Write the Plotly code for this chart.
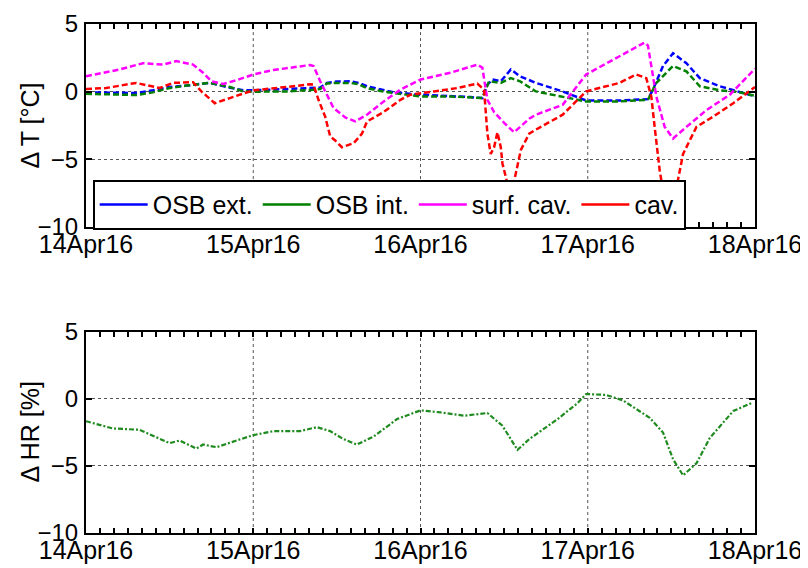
import pandas as pd
import plotly.graph_objects as go
from plotly.subplots import make_subplots

start = pd.Timestamp("2016-04-14")

# time in days after 14Apr16 00:00, values in degC / %
t_ext = [0.00, 0.15, 0.30, 0.40, 0.50, 0.60, 0.66, 0.74, 0.84, 0.94, 1.00, 1.20, 1.36, 1.40,
         1.44, 1.50, 1.58, 1.63, 1.68, 1.76, 1.84, 2.00, 2.18, 2.30, 2.37, 2.40, 2.43, 2.48,
         2.54, 2.595, 2.69, 2.85, 2.99, 3.19, 3.36, 3.39, 3.45, 3.51, 3.59, 3.67, 3.79, 3.89, 4.00]
osb_ext = [-0.05, -0.05, -0.1, 0.1, 0.35, 0.45, 0.52, 0.65, 0.35, 0.1, 0.1, 0.2, 0.27, 0.3,
           0.65, 0.75, 0.77, 0.65, 0.4, 0.15, -0.05, -0.22, -0.3, -0.4, -0.47, 0.52, 0.9, 0.77,
           1.64, 1.14, 0.65, 0.02, -0.65, -0.65, -0.55, 0.15, 1.9, 2.84, 2.1, 1.0, 0.4, 0.02, -0.35]

t_int = [0.00, 0.15, 0.30, 0.40, 0.50, 0.60, 0.74, 0.86, 0.94, 1.00, 1.20, 1.36, 1.40, 1.44,
         1.50, 1.58, 1.63, 1.68, 1.76, 1.84, 2.00, 2.18, 2.30, 2.37, 2.41, 2.48, 2.54, 2.595,
         2.69, 2.85, 2.99, 3.19, 3.36, 3.41, 3.51, 3.59, 3.67, 3.79, 3.89, 4.00]
osb_int = [-0.15, -0.2, -0.25, -0.05, 0.27, 0.45, 0.65, 0.35, 0.02, 0.0, 0.02, 0.15, 0.2, 0.6,
           0.65, 0.65, 0.55, 0.27, 0.05, -0.1, -0.35, -0.35, -0.4, -0.47, 0.77, 0.65, 1.0, 0.77,
           0.02, -0.35, -0.72, -0.72, -0.6, 0.65, 1.9, 1.5, 0.4, 0.1, 0.0, -0.3]

t_surf = [0.00, 0.10, 0.20, 0.34, 0.46, 0.54, 0.64, 0.70, 0.75, 0.82, 0.90, 1.00, 1.12, 1.34,
          1.36, 1.40, 1.48, 1.55, 1.61, 1.68, 1.78, 1.88, 2.00, 2.18, 2.34, 2.37, 2.40, 2.44,
          2.50, 2.56, 2.65, 2.69, 2.85, 2.99, 3.19, 3.34, 3.36, 3.41, 3.46, 3.51, 3.59, 3.71,
          3.85, 4.00]
surf_cav = [1.14, 1.4, 1.64, 2.1, 2.0, 2.26, 2.0, 1.4, 0.77, 0.57, 0.85, 1.27, 1.6, 1.97,
            1.9, 0.77, -1.2, -1.9, -2.2, -1.7, -0.72, 0.15, 0.9, 1.4, 2.0, 1.77, -0.6, -1.5,
            -2.3, -3.0, -2.0, -1.7, -0.97, 1.27, 2.64, 3.63, 3.4, -0.35, -2.6, -3.46, -2.6, -1.36,
            -0.22, 1.7]

t_cav = [0.00, 0.12, 0.30, 0.44, 0.52, 0.64, 0.69, 0.77, 0.86, 1.00, 1.20, 1.34, 1.36, 1.39,
         1.43, 1.46, 1.49, 1.53, 1.60, 1.65, 1.68, 1.78, 1.88, 1.94, 2.08, 2.22, 2.34, 2.38,
         2.40, 2.42, 2.44, 2.46, 2.48, 2.49, 2.52, 2.54, 2.56, 2.60, 2.65, 2.69, 2.85, 2.99,
         3.19, 3.29, 3.35, 3.38, 3.40, 3.43, 3.45, 3.49, 3.53, 3.57, 3.65, 3.75, 3.87, 4.00]
cav = [0.2, 0.27, 0.65, 0.27, 0.65, 0.7, 0.02, -0.85, -0.47, 0.1, 0.35, 0.55, 0.52, -0.6,
       -1.84, -3.3, -3.6, -4.1, -3.8, -3.1, -2.2, -1.5, -0.6, -0.22, 0.02, 0.27, 0.6, 0.15,
       -3.1, -4.6, -4.1, -3.0, -4.1, -5.3, -6.8, -9.0, -6.6, -4.3, -3.1, -2.8, -1.7, 0.02,
       0.65, 1.27, 1.0, -0.35, -2.6, -5.8, -7.3, -9.0, -7.1, -4.6, -2.6, -1.84, -0.85, 0.35]

t_hr = [0.00, 0.16, 0.32, 0.50, 0.56, 0.66, 0.70, 0.78, 0.90, 1.00, 1.12, 1.28, 1.38, 1.46,
        1.54, 1.62, 1.72, 1.86, 2.00, 2.12, 2.26, 2.40, 2.49, 2.58, 2.65, 2.82, 2.89, 2.94,
        2.99, 3.11, 3.21, 3.37, 3.45, 3.51, 3.57, 3.65, 3.73, 3.81, 3.87, 3.98]
d_hr = [-1.66, -2.2, -2.3, -3.3, -3.1, -3.7, -3.4, -3.6, -3.1, -2.7, -2.4, -2.4, -2.1, -2.4,
        -3.0, -3.4, -2.8, -1.5, -0.85, -1.0, -1.25, -1.05, -2.0, -3.8, -3.0, -1.5, -0.8, -0.3,
        0.37, 0.3, -0.1, -1.4, -2.5, -4.5, -5.7, -4.8, -2.9, -1.8, -0.9, -0.3]

names = ["OSB ext.", "OSB int.", "surf. cav.", "cav."]
colors = ["#0000ff", "#008000", "#ff00ff", "#ff0000"]
y_titles = ["Δ T [°C]", "Δ HR [%]"]


def to_time(days):
    return start + pd.to_timedelta(days, unit="D")


fig = make_subplots(rows=2, cols=1)

series = [(t_ext, osb_ext), (t_int, osb_int), (t_surf, surf_cav), (t_cav, cav)]
for (t, v), name, col in zip(series, names, colors):
    fig.add_trace(go.Scatter(x=to_time(t), y=v, mode="lines", showlegend=False,
                             line=dict(color=col, width=2.5, dash="6px,3px")), row=1, col=1)
# solid samples for the legend, as in the original figure
for name, col in zip(names, colors):
    fig.add_trace(go.Scatter(x=[None], y=[None], mode="lines", name=name,
                             line=dict(color=col, width=2.5)), row=1, col=1)

fig.add_trace(go.Scatter(x=to_time(t_hr), y=d_hr, mode="lines", showlegend=False,
                         line=dict(color="#1f8a1f", width=2.2, dash="5px,2px,2px,2px")),
              row=2, col=1)

font = "Liberation Sans, Arial, sans-serif"
end = start + pd.Timedelta(days=4)
x_range = [start, end]

# tick every 2 h, label only at midnight (MATLAB-like minor ticks)
tick_times = pd.date_range(start, end, freq="2h")
tick_text = [t.strftime("%d%b%y") if t.hour == 0 else "" for t in tick_times]
day_lines = pd.date_range(start, end, freq="D")[1:-1]

axis_common = dict(showline=True, linewidth=2, linecolor="black", mirror="allticks",
                   ticks="inside", tickwidth=1.5, tickcolor="black",
                   zeroline=False, automargin=False)

for r in (1, 2):
    fig.update_xaxes(axis_common, range=x_range, tickmode="array",
                     tickvals=tick_times, ticktext=tick_text, ticklen=5, showgrid=False,
                     tickfont=dict(size=25, color="black", family=font),
                     ticklabelstandoff=-6, row=r, col=1)
    fig.update_yaxes(axis_common, range=[-10, 5], dtick=5, tick0=0, ticklen=6,
                     showgrid=True, gridcolor="#555555", griddash="dot", gridwidth=1,
                     tickfont=dict(size=24, color="black", family=font),
                     ticklabelstandoff=1, row=r, col=1)
    # dotted vertical grid at each day
    for d in day_lines:
        fig.add_vline(x=d, line=dict(color="#555555", width=1, dash="dot"),
                      layer="below", row=r, col=1)

# y titles as rotated text, closer to the axis than plotly's default placement
domains = [[0.601, 1.0], [0.0, 0.395]]
for txt, dom in zip(y_titles, domains):
    fig.add_annotation(text=txt, textangle=-90, xref="paper", yref="paper",
                       x=-0.0837, y=(dom[0] + dom[1]) / 2, xanchor="center", yanchor="middle",
                       showarrow=False, font=dict(size=25, family=font, color="black"))

# page body adds an 8px offset, so the figure is 8px smaller than the window
fig.update_layout(
    width=800, height=560,
    margin=dict(l=78, r=53, t=16, b=35),
    paper_bgcolor="white", plot_bgcolor="white",
    font=dict(family=font, color="black"),
    yaxis=dict(domain=domains[0]),
    yaxis2=dict(domain=domains[1]),
    legend=dict(orientation="h", x=0.01, y=0.694, xanchor="left", yanchor="top",
                bgcolor="white", bordercolor="black", borderwidth=2,
                font=dict(size=25, family=font, color="black"),
                itemwidth=48, tracegroupgap=0),
)

fig.write_html("out.html")
